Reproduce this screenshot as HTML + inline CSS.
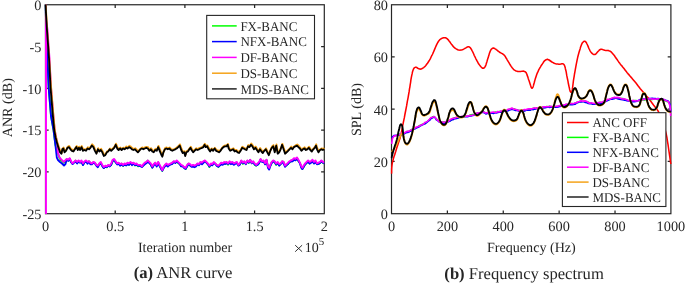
<!DOCTYPE html>
<html><head><meta charset="utf-8"><title>ANR curve and frequency spectrum</title>
<style>html,body{margin:0;padding:0;background:#fff;}body{width:685px;height:283px;overflow:hidden;}svg{display:block;will-change:transform;}text{font-family:"Liberation Serif",serif;fill:#262626;text-rendering:geometricPrecision;}</style>
</head><body>
<svg width="685" height="283" viewBox="0 0 685 283">
<rect x="0" y="0" width="685" height="283" fill="#ffffff"/>
<defs><clipPath id="cl"><rect x="44.3" y="4.2" width="281.2" height="210.1"/></clipPath><clipPath id="cr"><rect x="390.3" y="4.2" width="281.8" height="210.1"/></clipPath></defs>
<path d="M115.20,213.70 v-3.2 M115.20,4.75 v3.2 M184.90,213.70 v-3.2 M184.90,4.75 v3.2 M254.60,213.70 v-3.2 M254.60,4.75 v3.2 M45.50,46.54 h3.2 M324.30,46.54 h-3.2 M45.50,88.33 h3.2 M324.30,88.33 h-3.2 M45.50,130.12 h3.2 M324.30,130.12 h-3.2 M45.50,171.91 h3.2 M324.30,171.91 h-3.2" stroke="#262626" stroke-width="1.25" fill="none"/>
<rect x="45.50" y="4.75" width="278.80" height="208.95" fill="none" stroke="#262626" stroke-width="1.2"/>
<path d="M447.38,213.70 v-3.2 M447.38,4.75 v3.2 M503.26,213.70 v-3.2 M503.26,4.75 v3.2 M559.14,213.70 v-3.2 M559.14,4.75 v3.2 M615.02,213.70 v-3.2 M615.02,4.75 v3.2 M391.50,56.99 h3.2 M670.90,56.99 h-3.2 M391.50,109.22 h3.2 M670.90,109.22 h-3.2 M391.50,161.46 h3.2 M670.90,161.46 h-3.2" stroke="#262626" stroke-width="1.25" fill="none"/>
<rect x="391.50" y="4.75" width="279.40" height="208.95" fill="none" stroke="#262626" stroke-width="1.2"/>
<g clip-path="url(#cl)" fill="none" stroke-width="1.85" stroke-linejoin="round" stroke-linecap="butt">
<path d="M45.5,4.5 L46.3,29.0 L47.5,58.0 L48.6,87.0 L51.0,116.0 L53.5,130.0 L55.4,145.0 L57.8,153.0 L59.3,157.6 L60.8,160.3 L62.3,161.2 L63.7,162.7 L65.2,161.3 L66.7,159.3 L68.2,160.5 L69.7,159.2 L71.2,162.4 L72.6,163.6 L74.1,162.4 L75.6,160.6 L77.1,163.1 L78.6,161.5 L80.1,162.1 L81.5,161.9 L83.0,164.8 L84.5,162.2 L86.0,161.4 L87.5,162.2 L89.0,161.3 L90.4,163.5 L91.9,163.6 L93.4,162.3 L94.9,163.1 L96.4,165.0 L97.9,166.4 L99.3,164.1 L100.8,163.2 L102.3,165.7 L103.8,168.1 L105.3,166.4 L106.8,167.4 L108.2,165.6 L109.7,166.1 L111.2,164.9 L112.7,161.2 L114.2,160.2 L115.7,162.2 L117.2,163.9 L118.6,163.1 L120.1,164.6 L121.6,163.6 L123.1,166.0 L124.6,164.0 L126.1,165.4 L127.5,163.3 L129.0,164.8 L130.5,163.2 L132.0,163.5 L133.5,163.0 L135.0,165.5 L136.4,164.1 L137.9,166.3 L140.4,165.5 L141.9,166.6 L143.4,165.1 L144.8,163.8 L146.3,162.4 L147.8,160.6 L149.3,162.5 L150.8,164.8 L152.3,167.5 L153.7,164.4 L155.2,163.1 L156.7,165.1 L158.2,162.1 L159.7,166.1 L161.2,168.2 L162.3,170.9 L163.4,167.8 L164.9,165.2 L166.4,164.5 L167.8,165.1 L169.3,165.1 L170.8,163.6 L172.3,163.3 L173.8,161.6 L175.3,162.4 L176.7,161.9 L178.2,163.1 L179.7,163.9 L181.2,166.2 L182.7,166.0 L184.2,167.7 L185.6,169.1 L187.1,165.9 L188.6,163.6 L190.1,165.6 L191.6,166.0 L193.1,165.3 L194.5,166.8 L196.0,165.4 L197.5,163.9 L199.0,164.3 L200.5,162.1 L202.0,163.6 L203.4,161.6 L204.9,161.4 L206.4,162.5 L207.9,164.1 L209.4,167.1 L210.9,164.2 L212.3,165.0 L213.8,163.2 L215.3,163.7 L216.8,165.2 L218.3,167.0 L219.8,165.4 L221.2,163.1 L222.7,163.7 L224.2,163.0 L225.0,164.1 L226.5,162.3 L228.0,164.8 L229.5,162.5 L230.9,163.6 L232.4,162.6 L233.9,163.6 L235.4,162.8 L236.9,163.3 L238.4,165.3 L239.8,164.5 L241.3,160.9 L242.8,163.9 L244.3,162.1 L245.8,163.9 L247.3,160.8 L248.7,163.0 L250.2,159.9 L251.7,163.1 L253.2,162.0 L254.7,164.7 L256.2,165.8 L257.6,163.9 L259.1,163.3 L260.6,159.3 L262.1,161.3 L263.6,160.9 L265.1,164.1 L266.5,159.9 L268.0,166.7 L269.2,168.5 L270.3,165.8 L271.7,162.2 L273.2,161.0 L274.7,162.5 L276.2,164.9 L277.7,162.9 L279.2,165.2 L280.6,164.3 L282.1,161.5 L283.6,162.0 L285.1,165.7 L286.6,165.5 L288.1,163.7 L289.5,162.6 L291.0,160.5 L292.5,160.7 L294.0,159.0 L295.5,160.1 L297.0,158.0 L298.4,161.2 L299.9,162.8 L301.4,167.2 L302.4,169.0 L303.6,167.0 L305.1,164.5 L306.6,163.0 L308.1,161.6 L309.6,163.3 L311.1,161.7 L312.5,160.7 L314.0,163.3 L315.5,161.7 L317.0,164.1 L318.5,163.8 L320.0,163.2 L321.4,161.3 L322.9,162.9 L324.1,163.3" stroke="#00ff00"/>
<path d="M45.5,4.5 L46.3,29.0 L47.5,58.0 L48.6,87.0 L51.0,116.0 L53.5,130.0 L55.4,145.0 L56.8,157.5 L58.0,160.0 L60.0,162.0 L62.0,163.5 L64.0,165.5 L65.5,164.0 L66.7,159.6 L68.2,160.9 L69.7,158.8 L71.2,162.3 L72.6,164.1 L74.1,162.6 L75.6,161.5 L77.1,163.5 L78.6,161.2 L80.1,162.8 L81.5,161.8 L83.0,165.1 L84.5,162.4 L86.0,161.5 L87.5,163.7 L89.0,161.8 L90.4,164.3 L91.9,164.3 L93.4,162.7 L94.9,163.4 L96.4,165.8 L97.9,167.2 L99.3,164.2 L100.8,163.2 L102.3,166.2 L103.8,168.1 L105.3,166.9 L106.8,167.0 L108.2,165.5 L109.7,166.5 L111.2,164.8 L112.7,160.8 L114.2,159.9 L115.7,162.5 L117.2,164.5 L118.6,163.6 L120.1,165.7 L121.6,164.8 L123.1,165.8 L124.6,164.7 L126.1,165.4 L127.5,164.3 L129.0,164.9 L130.5,162.8 L132.0,165.2 L133.5,163.4 L135.0,165.2 L136.4,164.9 L137.9,165.6 L140.4,166.1 L141.9,167.0 L143.4,165.5 L144.8,164.2 L146.3,163.2 L147.8,162.1 L149.3,162.9 L150.8,164.8 L152.3,167.7 L153.7,165.4 L155.2,163.8 L156.7,166.5 L158.2,163.6 L159.7,166.0 L161.2,169.2 L162.3,170.7 L163.4,168.5 L164.9,166.2 L166.4,165.2 L167.8,166.5 L169.3,165.1 L170.8,164.4 L172.3,164.0 L173.8,161.8 L175.3,163.1 L176.7,161.2 L178.2,162.6 L179.7,164.1 L181.2,166.4 L182.7,166.4 L184.2,168.0 L185.6,168.9 L187.1,166.5 L188.6,164.1 L190.1,165.3 L191.6,166.9 L193.1,166.5 L194.5,167.2 L196.0,166.5 L197.5,164.3 L199.0,165.2 L200.5,162.9 L202.0,164.3 L203.4,162.9 L204.9,161.2 L206.4,162.7 L207.9,164.3 L209.4,166.5 L210.9,164.6 L212.3,165.4 L213.8,162.8 L215.3,164.0 L216.8,166.0 L218.3,166.7 L219.8,165.4 L221.2,164.4 L222.7,164.8 L224.2,163.1 L225.0,164.0 L226.5,163.3 L228.0,164.0 L229.5,162.8 L230.9,164.2 L232.4,163.5 L233.9,164.9 L235.4,163.7 L236.9,163.0 L238.4,165.6 L239.8,164.7 L241.3,161.1 L242.8,163.3 L244.3,162.0 L245.8,164.2 L247.3,161.4 L248.7,162.6 L250.2,160.3 L251.7,163.4 L253.2,161.9 L254.7,164.4 L256.2,165.5 L257.6,165.0 L259.1,163.2 L260.6,159.7 L262.1,162.1 L263.6,161.4 L265.1,164.4 L266.5,160.4 L268.0,168.0 L269.2,169.6 L270.3,166.0 L271.7,163.1 L273.2,161.1 L274.7,161.9 L276.2,164.4 L277.7,162.8 L279.2,165.7 L280.6,164.2 L282.1,161.8 L283.6,163.6 L285.1,166.8 L286.6,164.9 L288.1,163.9 L289.5,161.8 L291.0,161.6 L292.5,161.4 L294.0,159.8 L295.5,160.4 L297.0,158.4 L298.4,160.7 L299.9,163.4 L301.4,167.9 L302.4,169.1 L303.6,167.1 L305.1,164.4 L306.6,162.8 L308.1,162.0 L309.6,163.7 L311.1,162.8 L312.5,161.2 L314.0,163.5 L315.5,161.9 L317.0,164.3 L318.5,163.9 L320.0,162.9 L321.4,161.1 L322.9,162.5 L324.1,163.6" stroke="#0000ff"/>
<path d="M45.8,4.5 L46.0,213.4 L46.1,20.0 L47.4,29.0 L49.5,58.0 L51.0,87.0 L53.4,116.0 L54.7,130.0 L56.1,137.4 L57.4,143.4 L57.8,152.3 L59.3,156.7 L60.8,158.9 L62.3,160.4 L63.7,161.9 L65.2,160.4 L66.7,158.9 L68.2,159.7 L69.7,158.2 L71.2,161.2 L72.6,163.4 L74.1,161.9 L75.6,160.4 L77.1,161.9 L78.6,160.4 L80.1,161.9 L81.5,160.4 L83.0,163.4 L84.5,161.2 L86.0,160.4 L87.5,161.9 L89.0,161.2 L90.4,162.6 L91.9,163.4 L93.4,161.9 L94.9,162.6 L96.4,164.9 L97.9,165.6 L99.3,163.4 L100.8,161.9 L102.3,164.9 L103.8,167.1 L105.3,165.6 L106.8,166.4 L108.2,164.9 L109.7,165.6 L111.2,163.4 L112.7,159.7 L114.2,158.9 L115.7,161.2 L117.2,163.4 L118.6,162.6 L120.1,164.1 L121.6,163.4 L123.1,164.9 L124.6,163.4 L126.1,164.1 L127.5,162.6 L129.0,163.4 L130.5,161.9 L132.0,163.4 L133.5,162.6 L135.0,164.1 L136.4,163.4 L137.9,164.9 L140.4,164.9 L141.9,166.4 L143.4,164.1 L144.8,162.6 L146.3,161.9 L147.8,160.4 L149.3,161.9 L150.8,163.4 L152.3,166.4 L153.7,164.1 L155.2,162.6 L156.7,164.9 L158.2,161.9 L159.7,164.9 L161.2,167.8 L162.3,170.1 L163.4,167.1 L164.9,164.9 L166.4,163.4 L167.8,164.9 L169.3,164.1 L170.8,163.4 L172.3,162.6 L173.8,161.2 L175.3,161.9 L176.7,160.4 L178.2,161.9 L179.7,163.4 L181.2,164.9 L182.7,165.6 L184.2,167.1 L185.6,167.8 L187.1,164.9 L188.6,163.4 L190.1,164.1 L191.6,165.6 L193.1,164.9 L194.5,165.6 L196.0,164.9 L197.5,163.4 L199.0,164.1 L200.5,161.9 L202.0,162.6 L203.4,161.2 L204.9,160.4 L206.4,161.9 L207.9,163.4 L209.4,165.6 L210.9,163.4 L212.3,164.1 L213.8,161.9 L215.3,163.4 L216.8,164.9 L218.3,165.6 L219.8,164.1 L221.2,162.6 L222.7,163.4 L224.2,161.9 L225.0,162.6 L226.5,161.9 L228.0,163.4 L229.5,161.2 L230.9,162.6 L232.4,161.9 L233.9,163.4 L235.4,162.6 L236.9,161.9 L238.4,164.9 L239.8,163.4 L241.3,160.4 L242.8,162.6 L244.3,161.2 L245.8,163.4 L247.3,160.4 L248.7,161.9 L250.2,159.7 L251.7,162.6 L253.2,161.2 L254.7,163.4 L256.2,164.9 L257.6,163.4 L259.1,161.9 L260.6,158.9 L262.1,161.2 L263.6,160.4 L265.1,163.4 L266.5,159.7 L268.0,166.4 L269.2,167.8 L270.3,164.9 L271.7,161.9 L273.2,160.4 L274.7,161.2 L276.2,163.4 L277.7,161.9 L279.2,164.1 L280.6,163.4 L282.1,161.2 L283.6,161.9 L285.1,165.6 L286.6,164.1 L288.1,162.6 L289.5,161.2 L291.0,160.4 L292.5,159.7 L294.0,158.2 L295.5,158.9 L297.0,157.4 L298.4,159.7 L299.9,162.6 L301.4,166.4 L302.4,167.8 L303.6,165.6 L305.1,163.4 L306.6,161.9 L308.1,160.4 L309.6,161.9 L311.1,161.2 L312.5,159.7 L314.0,161.9 L315.5,160.4 L317.0,163.4 L318.5,162.6 L320.0,161.9 L321.4,160.4 L322.9,161.9 L324.1,162.6" stroke="#ff00ff"/>
<path d="M45.7,4.5 L47.1,29.0 L49.2,58.0 L51.1,87.0 L53.5,116.0 L54.8,130.0 L55.9,136.4 L57.4,142.3 L58.8,146.5 L60.3,151.2 L61.8,152.9 L62.6,148.4 L63.7,147.6 L64.8,151.1 L66.3,149.8 L67.7,146.7 L69.2,145.9 L70.7,148.4 L72.2,149.5 L73.7,150.5 L75.2,148.0 L76.7,146.0 L78.1,148.9 L79.2,146.6 L80.4,149.0 L81.8,146.0 L83.3,149.7 L84.8,149.1 L86.3,149.5 L87.8,147.2 L89.3,148.1 L90.7,146.8 L92.2,144.3 L93.7,145.8 L95.2,149.9 L96.7,152.7 L98.2,148.2 L99.6,150.6 L101.1,148.8 L102.6,151.2 L104.1,154.7 L105.6,154.1 L107.1,151.3 L108.5,150.6 L110.0,148.4 L111.5,149.6 L113.0,148.2 L114.5,146.6 L116.0,143.6 L117.5,147.4 L118.9,149.1 L120.4,147.6 L121.9,149.0 L123.4,147.7 L124.9,148.1 L126.4,146.5 L127.8,147.4 L129.3,145.8 L130.8,146.6 L132.3,148.1 L133.8,149.0 L135.3,148.2 L136.7,149.6 L138.2,151.3 L140.7,148.4 L142.2,147.4 L143.7,148.0 L145.1,147.2 L146.6,146.9 L148.1,147.2 L149.6,149.8 L151.1,148.2 L152.6,150.3 L154.0,151.3 L155.5,148.7 L157.0,149.5 L158.5,145.9 L160.0,149.4 L161.5,153.5 L162.6,155.5 L163.7,151.0 L165.2,148.0 L166.7,147.5 L168.1,148.2 L169.6,147.5 L171.1,149.0 L172.6,149.8 L174.1,149.2 L175.6,148.3 L177.0,147.3 L178.5,145.9 L180.0,144.3 L181.5,148.7 L183.0,151.9 L184.5,151.3 L185.5,154.7 L186.7,151.0 L188.2,150.3 L189.6,148.3 L190.8,146.7 L191.9,149.0 L193.4,151.3 L194.8,149.6 L196.3,148.3 L197.8,149.1 L199.3,148.0 L200.8,147.7 L202.3,146.8 L203.7,145.8 L204.9,143.7 L206.0,146.0 L207.5,145.4 L208.9,148.1 L210.4,150.4 L211.9,148.4 L213.4,149.8 L214.9,147.7 L216.4,149.7 L217.8,150.5 L219.3,151.0 L220.8,149.8 L222.3,147.6 L223.8,146.0 L225.3,145.3 L226.8,145.1 L228.0,143.9 L229.0,147.7 L230.5,149.9 L232.0,148.9 L233.5,148.3 L234.9,150.3 L236.4,149.9 L237.9,151.3 L239.4,151.8 L240.9,149.5 L242.4,146.7 L243.8,147.5 L245.3,148.3 L246.8,148.9 L248.3,145.0 L249.8,146.1 L251.3,143.5 L252.7,145.4 L254.2,148.0 L255.7,146.6 L257.2,149.1 L258.7,151.0 L260.2,148.0 L261.7,150.4 L263.1,152.0 L264.6,149.8 L266.1,148.3 L267.6,151.4 L269.1,154.1 L270.6,149.9 L272.0,146.5 L273.5,145.1 L275.0,151.2 L276.5,144.4 L278.0,152.8 L279.5,151.2 L280.9,148.2 L282.4,143.9 L283.9,148.2 L285.4,152.5 L286.9,151.1 L288.4,149.8 L289.8,148.4 L291.3,146.6 L292.8,148.4 L294.3,146.2 L295.8,145.2 L297.3,144.5 L298.7,145.8 L300.2,147.5 L301.7,149.7 L303.2,148.2 L304.7,147.2 L306.2,149.2 L307.6,148.2 L309.1,146.7 L310.6,149.1 L312.1,150.4 L313.6,148.2 L315.1,146.8 L316.2,144.3 L317.3,148.2 L318.8,151.1 L320.3,149.2 L321.7,148.4 L323.2,148.8 L324.4,148.2" stroke="#f5a31a"/>
<path d="M45.5,4.5 L46.9,29.0 L49.0,58.0 L50.5,87.0 L52.9,116.0 L54.2,130.0 L55.6,137.4 L57.1,143.4 L58.5,147.8 L60.0,152.3 L61.5,153.7 L62.3,149.3 L63.4,148.5 L64.5,152.3 L66.0,150.8 L67.4,147.8 L68.9,147.1 L70.4,149.3 L71.9,150.8 L73.4,151.5 L74.9,149.3 L76.4,147.1 L77.8,150.0 L78.9,147.8 L80.1,150.0 L81.5,147.1 L83.0,150.8 L84.5,150.0 L86.0,150.8 L87.5,148.5 L89.0,149.3 L90.4,147.8 L91.9,145.6 L93.4,147.1 L94.9,150.8 L96.4,153.7 L97.9,149.3 L99.3,151.5 L100.8,150.0 L102.3,152.3 L103.8,156.0 L105.3,155.2 L106.8,152.3 L108.2,151.5 L109.7,149.3 L111.2,150.8 L112.7,149.3 L114.2,147.8 L115.7,144.8 L117.2,148.5 L118.6,150.0 L120.1,148.5 L121.6,150.0 L123.1,148.5 L124.6,149.3 L126.1,147.8 L127.5,148.5 L129.0,147.1 L130.5,147.8 L132.0,149.3 L133.5,150.0 L135.0,149.3 L136.4,150.8 L137.9,152.3 L140.4,149.3 L141.9,148.5 L143.4,149.3 L144.8,148.5 L146.3,147.8 L147.8,148.5 L149.3,150.8 L150.8,149.3 L152.3,151.5 L153.7,152.3 L155.2,150.0 L156.7,150.8 L158.2,147.1 L159.7,150.8 L161.2,154.5 L162.3,156.7 L163.4,152.3 L164.9,149.3 L166.4,148.5 L167.8,149.3 L169.3,148.5 L170.8,150.0 L172.3,150.8 L173.8,150.0 L175.3,149.3 L176.7,148.5 L178.2,147.1 L179.7,145.6 L181.2,150.0 L182.7,153.0 L184.2,152.3 L185.2,156.0 L186.4,152.3 L187.9,151.5 L189.3,149.3 L190.5,147.8 L191.6,150.0 L193.1,152.3 L194.5,150.8 L196.0,149.3 L197.5,150.0 L199.0,149.3 L200.5,148.5 L202.0,147.8 L203.4,147.1 L204.6,144.8 L205.7,147.1 L207.2,146.3 L208.6,149.3 L210.1,151.5 L211.6,149.3 L213.1,150.8 L214.6,148.5 L216.1,150.8 L217.5,151.5 L219.0,152.3 L220.5,150.8 L222.0,148.5 L223.5,147.1 L225.0,146.3 L226.5,146.3 L227.7,144.8 L228.7,148.5 L230.2,150.8 L231.7,150.0 L233.2,149.3 L234.6,151.5 L236.1,150.8 L237.6,152.3 L239.1,153.0 L240.6,150.8 L242.1,147.8 L243.5,148.5 L245.0,149.3 L246.5,150.0 L248.0,146.3 L249.5,147.1 L251.0,144.8 L252.4,146.3 L253.9,149.3 L255.4,147.8 L256.9,150.0 L258.4,152.3 L259.9,149.3 L261.4,151.5 L262.8,153.0 L264.3,150.8 L265.8,149.3 L267.3,152.3 L268.8,155.2 L270.3,150.8 L271.7,147.8 L273.2,146.3 L274.7,152.3 L276.2,145.6 L277.7,153.7 L279.2,152.3 L280.6,149.3 L282.1,144.8 L283.6,149.3 L285.1,153.7 L286.6,152.3 L288.1,150.8 L289.5,149.3 L291.0,147.8 L292.5,149.3 L294.0,147.1 L295.5,146.3 L297.0,145.6 L298.4,147.1 L299.9,148.5 L301.4,150.8 L302.9,149.3 L304.4,148.5 L305.9,150.0 L307.3,149.3 L308.8,147.8 L310.3,150.0 L311.8,151.5 L313.3,149.3 L314.8,147.8 L315.9,145.6 L317.0,149.3 L318.5,152.3 L320.0,150.0 L321.4,149.3 L322.9,150.0 L324.1,149.3" stroke="#000000"/>
</g>
<g clip-path="url(#cr)" fill="none" stroke-width="1.85" stroke-linejoin="round" stroke-linecap="butt">
<path d="M391.5,173.8 L391.6,172.4 L391.6,170.3 L391.7,168.0 L391.9,166.0 L392.1,164.3 L392.4,162.7 L392.8,161.1 L393.2,159.5 L393.6,157.9 L394.1,156.3 L394.7,154.7 L395.2,153.0 L395.8,151.2 L396.3,149.4 L396.9,147.5 L397.6,145.5 L398.3,143.3 L399.1,141.0 L399.9,138.5 L400.6,136.0 L401.2,133.5 L401.7,131.0 L402.2,128.2 L402.8,125.2 L403.5,121.7 L404.3,117.9 L405.0,114.0 L405.8,110.0 L406.6,105.9 L407.3,101.6 L408.1,97.6 L408.7,94.0 L409.2,91.2 L409.5,88.9 L409.9,86.8 L410.2,84.6 L410.6,82.3 L410.9,79.9 L411.3,77.7 L411.7,75.7 L412.1,73.9 L412.4,72.3 L412.8,70.9 L413.2,69.8 L413.6,68.9 L413.9,68.3 L414.3,67.9 L414.7,67.6 L415.1,67.4 L415.4,67.2 L415.8,67.2 L416.2,67.3 L416.7,67.5 L417.3,67.9 L417.8,68.3 L418.4,68.6 L418.9,68.8 L419.4,69.0 L420.0,69.1 L420.6,69.1 L421.3,68.9 L422.1,68.6 L422.8,68.1 L423.6,67.6 L424.3,67.0 L425.1,66.3 L425.8,65.5 L426.5,64.6 L427.3,63.6 L428.0,62.5 L428.8,61.3 L429.5,60.2 L430.1,59.1 L430.7,57.9 L431.2,56.8 L431.7,55.7 L432.2,54.8 L432.6,54.0 L433.0,53.1 L433.5,52.0 L434.1,50.6 L434.8,48.9 L435.5,47.2 L436.2,45.6 L436.9,44.1 L437.7,42.7 L438.4,41.5 L439.2,40.4 L439.9,39.6 L440.7,39.0 L441.4,38.6 L442.1,38.2 L442.8,37.9 L443.5,37.7 L444.1,37.7 L444.8,37.7 L445.4,37.8 L446.0,38.0 L446.6,38.4 L447.3,38.9 L448.0,39.6 L448.8,40.6 L449.5,41.6 L450.3,42.6 L451.0,43.6 L451.7,44.6 L452.5,45.5 L453.2,46.4 L453.9,47.1 L454.7,47.8 L455.4,48.4 L456.2,48.9 L456.9,49.3 L457.7,49.7 L458.4,49.9 L459.2,50.1 L460.0,50.2 L460.7,50.1 L461.5,50.0 L462.2,49.8 L462.9,49.5 L463.7,49.1 L464.4,48.7 L465.1,48.3 L465.9,47.9 L466.6,47.4 L467.4,47.0 L468.1,46.8 L468.7,46.8 L469.3,47.0 L469.8,47.3 L470.3,47.8 L470.8,48.5 L471.4,49.4 L471.9,50.4 L472.5,51.5 L473.1,52.7 L473.7,54.0 L474.2,55.3 L474.8,56.5 L475.4,57.7 L475.9,58.8 L476.5,59.9 L477.0,60.9 L477.6,61.9 L478.1,62.9 L478.6,63.8 L479.2,64.6 L479.8,65.4 L480.3,66.1 L480.9,66.8 L481.4,67.3 L481.8,67.7 L482.2,68.0 L482.6,68.2 L483.0,68.3 L483.4,68.3 L483.7,68.2 L484.0,68.0 L484.4,67.6 L484.7,67.2 L485.1,66.7 L485.5,66.0 L485.9,64.9 L486.4,63.3 L487.0,61.4 L487.6,59.3 L488.2,57.4 L488.8,55.6 L489.3,53.8 L489.9,52.1 L490.4,50.8 L490.9,49.9 L491.3,49.3 L491.8,48.8 L492.2,48.5 L492.7,48.2 L493.1,48.1 L493.6,48.1 L494.1,48.2 L494.6,48.4 L495.1,48.8 L495.7,49.2 L496.3,49.7 L497.0,50.2 L497.8,50.8 L498.5,51.4 L499.3,52.0 L500.1,52.5 L500.8,52.9 L501.6,53.3 L502.3,53.7 L502.9,54.1 L503.5,54.5 L504.0,54.9 L504.5,55.5 L505.1,56.2 L505.6,57.1 L506.1,58.0 L506.7,58.9 L507.2,59.8 L507.8,60.8 L508.3,61.7 L508.9,62.7 L509.5,63.7 L510.1,64.6 L510.6,65.5 L511.2,66.4 L511.8,67.2 L512.3,67.9 L512.9,68.6 L513.4,69.2 L513.9,69.7 L514.4,70.1 L515.0,70.4 L515.6,70.7 L516.3,71.0 L517.1,71.2 L517.8,71.4 L518.6,71.5 L519.3,71.5 L520.1,71.5 L520.8,71.4 L521.5,71.3 L522.1,71.2 L522.7,71.2 L523.2,71.1 L523.8,71.2 L524.4,71.4 L524.9,71.6 L525.5,72.0 L526.0,72.5 L526.4,73.2 L526.8,74.1 L527.1,75.1 L527.5,76.1 L527.9,77.1 L528.2,78.2 L528.6,79.4 L529.0,80.5 L529.4,81.7 L529.8,83.0 L530.2,84.3 L530.5,85.3 L530.8,86.1 L531.0,86.7 L531.1,87.1 L531.3,87.5 L531.5,87.8 L531.7,88.0 L531.8,88.1 L532.0,88.1 L532.2,88.1 L532.3,88.0 L532.5,87.8 L532.7,87.5 L532.9,87.1 L533.1,86.6 L533.3,86.0 L533.5,85.3 L533.7,84.5 L534.0,83.5 L534.3,82.5 L534.6,81.3 L535.0,79.9 L535.4,78.4 L535.9,76.9 L536.4,75.4 L536.9,74.0 L537.5,72.6 L538.1,71.4 L538.6,70.2 L539.1,69.2 L539.6,68.4 L540.0,67.6 L540.5,66.8 L541.0,65.9 L541.6,65.0 L542.2,64.2 L542.7,63.4 L543.2,62.7 L543.6,62.0 L544.0,61.4 L544.5,60.9 L545.1,60.4 L545.7,60.0 L546.3,59.6 L546.8,59.4 L547.2,59.3 L547.6,59.3 L548.0,59.5 L548.5,59.7 L549.1,60.0 L549.8,60.5 L550.5,61.0 L551.2,61.5 L551.9,62.0 L552.7,62.4 L553.4,62.8 L554.2,63.2 L555.0,63.5 L555.7,63.7 L556.5,63.9 L557.2,64.0 L557.9,64.1 L558.7,64.2 L559.4,64.2 L560.1,64.2 L560.7,64.1 L561.3,63.9 L561.8,63.7 L562.3,63.7 L562.8,63.8 L563.3,64.0 L563.8,64.4 L564.3,65.0 L564.7,66.0 L565.1,67.2 L565.4,68.7 L565.8,70.2 L566.2,71.9 L566.5,73.8 L566.8,75.7 L567.2,77.6 L567.6,79.5 L568.0,81.4 L568.3,83.3 L568.7,85.0 L569.0,86.6 L569.4,88.1 L569.6,89.4 L569.9,90.4 L570.1,91.1 L570.3,91.5 L570.4,91.7 L570.6,91.9 L570.8,92.1 L570.9,92.2 L571.1,92.3 L571.2,92.3 L571.3,92.3 L571.5,92.3 L571.6,92.1 L571.8,91.7 L572.0,91.1 L572.1,90.4 L572.3,89.4 L572.5,88.0 L572.8,86.0 L573.1,83.5 L573.4,80.8 L573.8,78.3 L574.2,76.1 L574.5,74.0 L574.9,71.9 L575.3,69.7 L575.7,67.3 L576.2,64.7 L576.7,62.2 L577.2,59.7 L577.7,57.3 L578.3,55.0 L578.9,52.8 L579.5,50.8 L580.1,48.9 L580.6,47.0 L581.2,45.4 L581.7,44.1 L582.2,43.1 L582.7,42.5 L583.2,42.0 L583.6,41.6 L584.0,41.3 L584.4,41.2 L584.7,41.2 L585.1,41.3 L585.5,41.6 L585.8,41.9 L586.2,42.4 L586.6,43.1 L587.0,44.0 L587.5,45.0 L588.0,46.1 L588.4,47.1 L588.8,48.1 L589.2,49.0 L589.7,50.0 L590.1,50.8 L590.6,51.6 L591.1,52.3 L591.6,52.9 L592.1,53.4 L592.6,53.8 L593.1,54.1 L593.5,54.4 L594.0,54.5 L594.4,54.5 L594.9,54.5 L595.3,54.3 L595.8,54.0 L596.3,53.5 L596.9,52.8 L597.5,52.1 L598.0,51.5 L598.5,51.0 L599.0,50.5 L599.4,50.0 L599.9,49.7 L600.3,49.5 L600.8,49.3 L601.2,49.3 L601.7,49.3 L602.2,49.4 L602.8,49.6 L603.3,49.8 L603.9,50.0 L604.5,50.2 L605.0,50.3 L605.6,50.4 L606.2,50.5 L606.8,50.5 L607.3,50.5 L607.9,50.4 L608.4,50.5 L608.9,50.7 L609.5,50.9 L610.0,51.1 L610.6,51.5 L611.1,51.9 L611.7,52.5 L612.2,53.1 L612.8,53.7 L613.4,54.4 L613.9,55.1 L614.5,55.8 L615.1,56.7 L615.8,57.7 L616.5,58.7 L617.3,59.8 L618.0,60.9 L618.7,61.9 L619.5,62.9 L620.2,63.9 L621.0,64.9 L621.8,65.8 L622.5,66.8 L623.3,67.7 L624.0,68.6 L624.7,69.5 L625.4,70.4 L626.1,71.3 L626.9,72.4 L627.9,73.6 L629.1,74.9 L630.2,76.3 L631.4,77.6 L632.5,78.9 L633.6,80.2 L634.7,81.5 L635.8,82.8 L636.9,84.2 L638.0,85.8 L639.2,87.3 L640.3,88.7 L641.4,90.0 L642.5,91.3 L643.6,92.6 L644.7,93.9 L645.8,95.2 L646.9,96.4 L648.0,97.8 L649.2,99.3 L650.6,101.1 L652.2,103.2 L653.7,105.3 L655.1,107.1 L656.2,108.5 L657.1,109.6 L657.9,110.7 L658.8,112.3 L659.7,114.4 L660.6,116.7 L661.6,119.3 L662.5,122.0 L663.5,124.8 L664.4,127.7 L665.4,130.8 L666.2,134.0 L666.9,137.3 L667.4,140.8 L668.0,144.3 L668.5,148.0 L669.1,152.2 L669.8,156.9 L670.4,161.1 L670.8,164.0" stroke="#ff0000" stroke-width="1.55"/>
<path d="M396.9,135.5 L398.4,134.8 L399.8,134.0 L401.3,134.3 L402.8,132.9 L404.3,132.9 L405.8,132.8 L407.3,131.4 L408.8,131.2 L410.2,130.6 L411.7,129.4 L413.2,129.0 L414.6,128.6 L416.1,127.6 L417.6,127.1 L419.1,125.8 L420.6,125.1 L422.1,124.3 L423.6,123.9 L425.1,123.3 L426.5,122.0 L428.0,121.2 L429.5,119.4 L431.0,118.4 L432.6,116.7 L434.0,116.6 L435.2,117.6 L436.4,119.1 L437.8,120.2 L439.2,121.2 L441.8,122.0 L444.3,122.1 L445.8,121.7 L447.3,121.7 L448.8,120.6 L450.3,120.5 L451.8,119.8 L453.2,118.2 L454.7,117.8 L456.2,117.6 L457.7,116.9 L459.2,117.0 L460.7,117.2 L462.2,116.3 L463.6,116.6 L465.1,116.0 L466.6,116.3 L468.1,116.3 L469.6,115.3 L471.0,114.8 L472.5,114.6 L474.0,114.7 L475.5,113.6 L477.0,113.1 L478.5,112.9 L480.0,112.7 L482.5,111.4 L484.2,112.2 L485.9,113.2 L487.4,112.6 L488.9,113.0 L490.4,112.5 L491.9,112.8 L493.4,113.0 L494.9,112.0 L496.3,112.3 L497.8,112.2 L499.3,111.4 L500.8,111.3 L502.2,111.7 L503.7,111.4 L505.2,110.1 L506.7,110.4 L508.2,110.2 L509.7,109.1 L511.9,108.8 L513.8,108.7 L515.6,109.6 L517.1,110.1 L518.5,110.2 L520.0,110.6 L521.5,110.2 L523.0,110.2 L524.5,110.5 L526.0,110.0 L527.5,109.7 L529.0,109.4 L530.5,109.7 L531.9,109.0 L533.4,108.2 L534.9,108.8 L536.3,108.1 L537.8,108.0 L539.3,107.6 L540.8,107.6 L542.3,107.2 L543.8,106.7 L545.3,107.0 L546.8,106.4 L548.2,107.0 L549.7,106.1 L551.2,106.8 L552.7,106.8 L554.2,106.5 L555.7,106.7 L557.2,106.2 L558.7,106.4 L560.2,105.8 L561.6,105.3 L563.1,105.8 L564.6,104.9 L566.0,104.6 L567.5,104.8 L569.0,104.1 L570.5,104.2 L572.0,103.5 L573.5,104.0 L575.0,103.3 L576.5,102.3 L578.0,102.5 L579.5,101.2 L580.9,101.5 L582.4,101.6 L583.9,101.2 L585.4,101.1 L586.9,101.6 L588.3,102.2 L589.8,102.9 L591.3,103.3 L592.8,103.9 L594.3,103.6 L595.8,103.1 L597.2,103.3 L598.7,102.6 L600.2,102.3 L601.7,102.4 L603.2,102.2 L604.7,100.9 L606.1,100.6 L607.6,100.2 L609.1,99.7 L610.6,98.7 L612.1,98.7 L614.0,97.6 L615.8,97.7 L617.6,98.2 L619.5,98.7 L621.0,98.6 L622.5,98.6 L624.0,98.8 L625.5,99.7 L626.9,99.8 L628.4,100.6 L629.9,100.2 L631.3,101.1 L632.8,100.7 L634.3,100.6 L635.8,100.6 L637.3,100.8 L638.8,100.7 L640.3,100.4 L641.8,99.9 L643.2,99.9 L644.7,100.0 L646.2,99.3 L647.7,99.7 L649.2,98.7 L650.7,99.6 L652.2,99.4 L653.7,99.1 L655.2,99.2 L656.6,99.3 L658.1,99.7 L659.6,99.0 L661.0,99.8 L662.5,99.9 L664.0,99.8 L665.5,100.9 L667.0,101.6 L668.5,102.0" stroke="#00ff00" stroke-width="1.5"/>
<path d="M391.7,137.9 L393.9,135.6 L396.9,135.2 L396.9,135.3 L398.4,135.3 L399.8,135.2 L401.3,134.8 L402.8,134.2 L404.3,133.8 L405.8,132.7 L407.3,132.4 L408.8,132.1 L410.2,131.2 L411.7,130.8 L413.2,129.5 L414.6,129.0 L416.1,128.1 L417.6,127.5 L419.1,126.8 L420.6,125.7 L422.1,125.1 L423.6,124.3 L425.1,123.8 L426.5,122.7 L428.0,121.3 L429.5,120.4 L431.0,118.5 L432.6,117.8 L434.0,117.1 L435.2,117.7 L436.4,119.8 L437.8,120.6 L439.2,122.0 L441.8,123.1 L444.3,123.3 L445.8,122.4 L447.3,122.3 L448.8,121.5 L450.3,120.9 L451.8,119.8 L453.2,119.6 L454.7,118.6 L456.2,118.6 L457.7,118.2 L459.2,117.5 L460.7,117.3 L462.2,117.0 L463.6,116.9 L465.1,116.6 L466.6,116.7 L468.1,116.6 L469.6,115.9 L471.0,116.0 L472.5,115.5 L474.0,115.2 L475.5,114.9 L477.0,114.1 L478.5,113.4 L480.0,112.9 L482.5,112.2 L484.2,112.6 L485.9,114.0 L487.4,113.3 L488.9,113.7 L490.4,113.6 L491.9,113.0 L493.4,113.4 L494.9,112.9 L496.3,112.9 L497.8,112.4 L499.3,112.1 L500.8,111.9 L502.2,112.1 L503.7,111.3 L505.2,111.3 L506.7,111.1 L508.2,110.7 L509.7,109.9 L511.9,109.2 L513.8,109.8 L515.6,110.5 L517.1,110.3 L518.5,110.9 L520.0,111.2 L521.5,111.5 L523.0,110.7 L524.5,111.1 L526.0,110.2 L527.5,110.2 L529.0,110.1 L530.5,110.1 L531.9,109.4 L533.4,109.6 L534.9,109.1 L536.3,108.8 L537.8,108.6 L539.3,108.3 L540.8,108.0 L542.3,107.8 L543.8,107.9 L545.3,107.8 L546.8,107.2 L548.2,107.0 L549.7,107.5 L551.2,107.1 L552.7,107.0 L554.2,106.9 L555.7,107.2 L557.2,107.3 L558.7,106.8 L560.2,106.4 L561.6,105.9 L563.1,106.2 L564.6,105.3 L566.0,105.3 L567.5,105.3 L569.0,104.5 L570.5,104.8 L572.0,104.8 L573.5,104.4 L575.0,104.3 L576.5,103.1 L578.0,102.6 L579.5,101.9 L580.9,101.9 L582.4,101.6 L583.9,101.7 L585.4,102.5 L586.9,102.8 L588.3,103.4 L589.8,103.6 L591.3,103.8 L592.8,104.2 L594.3,104.3 L595.8,103.9 L597.2,103.8 L598.7,103.4 L600.2,103.2 L601.7,103.3 L603.2,102.9 L604.7,102.0 L606.1,101.3 L607.6,100.5 L609.1,99.7 L610.6,99.3 L612.1,99.1 L614.0,98.8 L615.8,98.0 L617.6,98.7 L619.5,99.1 L621.0,99.4 L622.5,99.7 L624.0,100.1 L625.5,100.2 L626.9,100.8 L628.4,100.9 L629.9,101.2 L631.3,101.6 L632.8,101.7 L634.3,101.6 L635.8,101.5 L637.3,100.9 L638.8,100.3 L640.3,99.5 L641.8,99.5 L643.2,99.0 L644.7,99.0 L646.2,98.6 L647.7,98.7 L649.2,98.6 L650.7,98.6 L652.2,98.2 L653.7,98.5 L655.2,98.6 L656.6,98.8 L658.1,98.5 L659.6,99.0 L661.0,99.2 L662.5,99.3 L664.0,99.6 L665.5,100.3 L667.0,100.6 L668.5,101.3 L670.0,104.5 L670.7,112.0" stroke="#0000ff" stroke-width="1.6"/>
<path d="M391.7,143.8 L392.4,138.6 L393.9,136.4 L393.9,136.1 L395.4,135.9 L396.9,135.2 L398.4,134.9 L399.8,134.3 L401.3,133.3 L402.8,132.7 L404.3,133.0 L405.8,132.0 L407.3,131.3 L408.8,131.4 L410.2,130.3 L411.7,130.0 L413.2,128.9 L414.6,128.3 L416.1,127.1 L417.6,126.8 L419.1,126.3 L420.6,125.2 L422.1,124.7 L423.6,123.9 L425.1,122.3 L426.5,122.0 L428.0,120.8 L429.5,119.2 L431.0,117.5 L432.6,117.3 L434.0,116.6 L435.2,117.4 L436.4,119.1 L437.8,120.3 L439.2,121.8 L441.8,121.9 L444.3,122.5 L445.8,121.6 L447.3,121.6 L448.8,121.1 L450.3,119.5 L451.8,118.8 L453.2,118.2 L454.7,118.2 L456.2,117.4 L457.7,117.3 L459.2,116.7 L460.7,116.6 L462.2,116.3 L463.6,116.2 L465.1,116.2 L466.6,116.1 L468.1,116.1 L469.6,115.6 L471.0,115.5 L472.5,115.2 L474.0,115.0 L475.5,114.1 L477.0,113.0 L478.5,113.1 L480.0,112.6 L482.5,111.7 L484.2,112.2 L485.9,113.1 L487.4,112.5 L488.9,113.0 L490.4,112.7 L491.9,112.3 L493.4,111.9 L494.9,112.6 L496.3,112.5 L497.8,111.5 L499.3,111.9 L500.8,111.2 L502.2,110.7 L503.7,110.5 L505.2,110.6 L506.7,110.3 L508.2,109.1 L509.7,109.3 L511.9,108.0 L513.8,109.2 L515.6,109.3 L517.1,110.1 L518.5,110.4 L520.0,110.2 L521.5,110.9 L523.0,110.0 L524.5,109.5 L526.0,109.8 L527.5,109.0 L529.0,108.9 L530.5,108.9 L531.9,108.9 L533.4,108.2 L534.9,107.8 L536.3,108.5 L537.8,107.7 L539.3,108.2 L540.8,107.8 L542.3,107.1 L543.8,106.9 L545.3,106.7 L546.8,106.7 L548.2,106.6 L549.7,106.5 L551.2,106.4 L552.7,106.7 L554.2,106.3 L555.7,106.2 L557.2,106.5 L558.7,105.7 L560.2,105.5 L561.6,105.9 L563.1,105.1 L564.6,104.9 L566.0,104.1 L567.5,104.2 L569.0,104.1 L570.5,103.3 L572.0,103.8 L573.5,103.6 L575.0,102.9 L576.5,102.7 L578.0,101.8 L579.5,101.5 L580.9,100.8 L582.4,101.1 L583.9,101.1 L585.4,100.9 L586.9,101.4 L588.3,102.5 L589.8,103.3 L591.3,102.8 L592.8,103.2 L594.3,103.6 L595.8,103.1 L597.2,102.9 L598.7,102.6 L600.2,102.3 L601.7,102.2 L603.2,101.6 L604.7,101.0 L606.1,100.7 L607.6,99.3 L609.1,99.3 L610.6,98.9 L612.1,97.9 L614.0,97.4 L615.8,97.6 L617.6,97.4 L619.5,97.8 L621.0,98.4 L622.5,99.0 L624.0,98.7 L625.5,99.3 L626.9,99.7 L628.4,100.6 L629.9,100.4 L631.3,101.0 L632.8,100.4 L634.3,100.7 L635.8,100.9 L637.3,101.0 L638.8,100.4 L640.3,100.0 L641.8,99.6 L643.2,99.7 L644.7,99.1 L646.2,99.4 L647.7,99.4 L649.2,98.6 L650.7,98.7 L652.2,99.1 L653.7,99.0 L655.2,99.3 L656.6,98.9 L658.1,98.7 L659.6,99.1 L661.0,99.7 L662.5,99.4 L664.0,99.6 L665.5,100.4 L667.0,101.1 L668.5,101.8 L670.0,106.0 L670.7,116.0" stroke="#ff00ff" stroke-width="1.6"/>
<path d="M391.7,152.0 L392.1,151.5 L392.6,150.8 L393.2,150.0 L393.9,149.0 L394.6,147.9 L395.4,146.6 L396.1,145.3 L396.9,143.8 L397.6,142.2 L398.4,140.4 L399.1,138.6 L399.8,137.1 L400.4,135.8 L401.0,134.6 L401.6,133.8 L402.1,133.4 L402.5,133.6 L402.9,134.3 L403.3,135.3 L403.6,136.5 L403.9,138.0 L404.3,139.7 L404.6,141.5 L405.0,142.8 L405.5,143.6 L406.0,144.2 L406.5,144.5 L407.0,144.6 L407.5,144.5 L407.9,144.1 L408.3,143.7 L408.7,143.1 L409.1,142.5 L409.5,141.8 L409.8,141.1 L410.2,140.2 L410.6,139.2 L410.9,138.1 L411.3,136.9 L411.7,135.6 L412.1,134.3 L412.4,132.8 L412.8,131.3 L413.2,129.6 L413.6,127.7 L413.9,125.6 L414.3,123.4 L414.7,121.3 L415.1,119.2 L415.5,117.1 L415.8,115.1 L416.2,113.4 L416.6,112.1 L416.9,111.1 L417.2,110.3 L417.6,109.7 L418.0,109.3 L418.3,109.0 L418.7,109.0 L419.1,109.2 L419.5,109.6 L419.9,110.3 L420.2,111.1 L420.6,111.9 L421.0,112.6 L421.3,113.3 L421.7,114.0 L422.1,114.6 L422.5,115.0 L423.0,115.4 L423.4,115.6 L423.9,115.7 L424.4,115.7 L424.8,115.5 L425.3,115.3 L425.8,115.1 L426.3,114.8 L426.9,114.5 L427.5,114.2 L428.0,113.9 L428.4,113.7 L428.8,113.5 L429.1,113.2 L429.5,112.7 L429.9,111.8 L430.2,110.6 L430.6,109.4 L431.0,108.2 L431.4,107.0 L431.8,105.8 L432.1,104.7 L432.5,103.8 L432.9,103.1 L433.3,102.5 L433.6,102.0 L434.0,101.8 L434.4,101.7 L434.7,101.8 L435.0,102.1 L435.4,102.7 L435.8,103.7 L436.1,105.1 L436.5,106.7 L436.9,108.2 L437.3,109.7 L437.6,111.4 L438.0,113.0 L438.4,114.6 L438.8,116.2 L439.1,117.8 L439.5,119.3 L439.9,120.6 L440.3,121.6 L440.6,122.3 L441.0,122.9 L441.4,123.5 L441.8,124.1 L442.3,124.6 L442.7,125.0 L443.2,125.3 L443.7,125.4 L444.2,125.4 L444.7,125.3 L445.1,125.0 L445.5,124.6 L445.9,124.2 L446.2,123.6 L446.6,122.8 L447.0,121.9 L447.4,120.7 L447.7,119.5 L448.1,118.3 L448.5,117.0 L448.8,115.6 L449.1,114.2 L449.5,113.1 L449.9,112.3 L450.2,111.7 L450.6,111.3 L451.0,110.9 L451.4,110.6 L451.8,110.3 L452.1,110.2 L452.5,110.1 L452.9,110.2 L453.2,110.3 L453.6,110.6 L454.0,110.9 L454.4,111.3 L454.8,111.9 L455.1,112.5 L455.5,113.1 L455.9,113.7 L456.2,114.4 L456.6,115.1 L457.0,115.7 L457.5,116.2 L458.1,116.6 L458.6,116.9 L459.2,117.2 L459.8,117.4 L460.3,117.5 L460.8,117.6 L461.4,117.6 L462.0,117.5 L462.5,117.4 L463.1,117.2 L463.6,116.9 L464.0,116.5 L464.4,115.9 L464.7,115.3 L465.1,114.6 L465.5,113.9 L465.9,113.1 L466.2,112.2 L466.6,111.2 L467.0,110.0 L467.4,108.7 L467.7,107.4 L468.1,106.3 L468.5,105.5 L468.9,104.9 L469.2,104.3 L469.6,103.8 L470.0,103.2 L470.4,102.5 L470.7,102.1 L471.1,102.1 L471.5,102.7 L471.8,103.7 L472.1,104.9 L472.5,106.1 L472.9,107.3 L473.2,108.7 L473.6,110.1 L474.0,111.3 L474.4,112.4 L474.9,113.5 L475.3,114.5 L475.8,115.2 L476.3,115.6 L476.7,115.9 L477.2,115.9 L477.7,115.8 L478.2,115.5 L478.8,115.1 L479.4,114.6 L480.0,114.0 L480.6,113.3 L481.1,112.6 L481.7,111.7 L482.2,110.9 L482.7,110.0 L483.2,109.1 L483.7,108.2 L484.2,107.5 L484.6,107.0 L485.1,106.5 L485.5,106.3 L485.9,106.2 L486.3,106.3 L486.8,106.7 L487.3,107.2 L487.7,108.0 L488.1,109.1 L488.4,110.5 L488.8,112.1 L489.2,113.6 L489.6,115.1 L490.1,116.7 L490.6,118.3 L491.1,119.6 L491.6,120.7 L492.2,121.8 L492.8,122.6 L493.4,123.3 L494.0,123.8 L494.5,124.2 L495.1,124.4 L495.6,124.5 L496.2,124.5 L496.7,124.3 L497.3,124.0 L497.8,123.6 L498.4,123.0 L498.9,122.3 L499.5,121.4 L500.0,120.3 L500.5,119.0 L501.1,117.4 L501.5,115.8 L502.0,114.4 L502.4,113.1 L502.7,112.0 L503.1,110.9 L503.4,110.2 L503.8,109.8 L504.1,109.6 L504.5,109.7 L504.9,109.9 L505.3,110.4 L505.6,111.2 L506.0,112.0 L506.4,112.9 L506.8,113.8 L507.3,114.8 L507.7,115.7 L508.2,116.6 L508.7,117.4 L509.3,118.2 L509.8,119.0 L510.4,119.6 L510.9,120.1 L511.5,120.5 L512.0,120.9 L512.6,121.1 L513.2,121.2 L513.8,121.3 L514.3,121.2 L514.9,121.1 L515.5,120.9 L516.0,120.6 L516.6,120.2 L517.1,119.6 L517.6,118.7 L518.0,117.5 L518.5,116.3 L518.9,115.1 L519.3,113.9 L519.7,112.8 L520.0,111.7 L520.4,110.9 L520.8,110.4 L521.1,110.1 L521.4,110.0 L521.8,110.2 L522.2,110.7 L522.5,111.5 L522.9,112.5 L523.3,113.6 L523.7,114.8 L524.0,116.1 L524.4,117.5 L524.8,118.8 L525.2,120.0 L525.7,121.1 L526.2,122.1 L526.7,123.0 L527.2,123.7 L527.7,124.3 L528.2,124.7 L528.7,125.1 L529.1,125.4 L529.6,125.6 L530.0,125.8 L530.4,125.8 L530.8,125.8 L531.3,125.7 L531.7,125.4 L532.2,125.1 L532.7,124.6 L533.2,124.1 L533.7,123.4 L534.2,122.5 L534.7,121.4 L535.2,120.2 L535.6,118.8 L536.1,117.3 L536.6,115.6 L537.0,113.6 L537.5,111.7 L537.9,110.2 L538.3,109.1 L538.6,108.3 L539.0,107.7 L539.3,107.2 L539.6,106.9 L539.9,106.8 L540.2,106.8 L540.5,106.9 L540.9,107.2 L541.2,107.6 L541.6,108.1 L542.0,108.7 L542.4,109.3 L542.7,110.0 L543.1,110.7 L543.5,111.4 L543.9,112.1 L544.4,112.9 L544.8,113.6 L545.3,114.2 L545.8,114.6 L546.4,114.8 L546.9,114.9 L547.5,114.9 L548.0,114.9 L548.6,114.8 L549.1,114.6 L549.7,114.2 L550.3,113.7 L550.9,113.0 L551.5,112.2 L552.0,111.2 L552.5,110.0 L553.0,108.5 L553.4,106.9 L553.9,105.3 L554.4,103.5 L554.8,101.5 L555.3,99.6 L555.7,98.1 L556.1,96.8 L556.5,95.7 L556.8,94.8 L557.2,94.3 L557.6,94.2 L557.9,94.4 L558.2,94.8 L558.6,95.5 L559.0,96.5 L559.3,97.8 L559.7,99.2 L560.1,100.5 L560.5,101.6 L560.9,102.8 L561.2,103.8 L561.6,104.7 L562.0,105.5 L562.3,106.2 L562.7,106.7 L563.1,107.1 L563.5,107.4 L564.0,107.5 L564.4,107.5 L564.9,107.5 L565.4,107.4 L565.8,107.2 L566.3,106.9 L566.8,106.5 L567.3,106.0 L567.9,105.4 L568.5,104.6 L569.0,103.8 L569.5,102.8 L569.9,101.8 L570.4,100.6 L570.8,99.3 L571.2,97.9 L571.6,96.3 L571.9,94.8 L572.3,93.4 L572.7,92.3 L573.0,91.2 L573.4,90.4 L573.8,89.7 L574.2,89.2 L574.6,88.8 L574.9,88.6 L575.3,88.7 L575.7,89.0 L576.0,89.6 L576.3,90.3 L576.7,91.2 L577.1,92.3 L577.4,93.6 L577.8,95.0 L578.2,96.1 L578.7,96.9 L579.2,97.6 L579.7,98.2 L580.2,98.6 L580.7,98.9 L581.3,99.0 L581.8,99.0 L582.4,98.9 L582.9,98.8 L583.5,98.7 L584.0,98.5 L584.6,98.1 L585.2,97.5 L585.8,96.6 L586.4,95.7 L586.9,94.8 L587.4,93.8 L587.8,92.8 L588.2,91.9 L588.6,91.1 L589.0,90.6 L589.4,90.2 L589.7,90.0 L590.1,89.9 L590.5,89.9 L590.9,90.1 L591.2,90.4 L591.6,90.8 L592.0,91.4 L592.4,92.1 L592.7,93.0 L593.1,94.0 L593.5,95.3 L593.8,96.9 L594.2,98.4 L594.6,99.8 L595.0,101.0 L595.5,102.0 L596.0,102.9 L596.5,103.7 L597.0,104.3 L597.6,104.9 L598.1,105.2 L598.7,105.5 L599.3,105.6 L599.9,105.6 L600.4,105.5 L601.0,105.3 L601.6,105.1 L602.1,104.8 L602.7,104.5 L603.2,104.1 L603.6,103.7 L604.0,103.3 L604.3,102.6 L604.7,101.7 L605.1,100.3 L605.4,98.5 L605.8,96.6 L606.2,94.8 L606.6,93.0 L607.1,91.2 L607.5,89.5 L607.9,88.1 L608.3,87.0 L608.7,86.2 L609.0,85.6 L609.4,85.1 L609.8,84.7 L610.1,84.4 L610.5,84.3 L610.9,84.4 L611.3,84.7 L611.6,85.2 L612.0,85.9 L612.4,86.6 L612.8,87.4 L613.1,88.4 L613.5,89.4 L613.9,90.3 L614.3,91.1 L614.8,92.0 L615.3,92.7 L615.8,93.3 L616.3,93.7 L616.9,94.0 L617.4,94.2 L618.0,94.3 L618.6,94.4 L619.2,94.4 L619.8,94.3 L620.3,94.0 L620.8,93.5 L621.3,92.8 L621.8,92.0 L622.2,91.1 L622.6,90.0 L623.0,88.8 L623.3,87.6 L623.7,86.6 L624.1,85.8 L624.4,85.2 L624.7,84.7 L625.1,84.4 L625.5,84.3 L625.8,84.3 L626.2,84.6 L626.6,85.1 L627.0,85.9 L627.4,86.9 L627.7,88.1 L628.1,89.6 L628.5,91.4 L628.9,93.5 L629.2,95.7 L629.6,97.6 L630.0,99.2 L630.3,100.5 L630.7,101.8 L631.1,102.9 L631.5,103.9 L632.0,104.8 L632.4,105.5 L632.9,106.1 L633.4,106.5 L634.0,106.8 L634.5,107.0 L635.1,107.1 L635.6,107.2 L636.2,107.3 L636.7,107.2 L637.3,107.1 L637.9,106.8 L638.4,106.5 L639.0,106.0 L639.5,105.3 L639.9,104.3 L640.3,103.2 L640.6,101.9 L641.0,100.5 L641.4,99.0 L641.8,97.2 L642.1,95.6 L642.5,94.4 L642.9,93.7 L643.2,93.2 L643.6,93.0 L644.0,93.0 L644.4,93.0 L644.8,93.2 L645.1,93.6 L645.5,94.4 L645.9,95.7 L646.3,97.3 L646.6,99.1 L647.0,100.7 L647.3,102.0 L647.7,103.3 L648.0,104.4 L648.4,105.5 L648.8,106.5 L649.3,107.5 L649.9,108.3 L650.4,109.0 L651.0,109.5 L651.6,109.8 L652.3,110.1 L652.9,110.2 L653.5,110.3 L654.0,110.2 L654.6,110.1 L655.1,109.8 L655.6,109.4 L656.0,109.0 L656.5,108.4 L656.9,107.6 L657.3,106.6 L657.7,105.4 L658.0,104.2 L658.4,103.1 L658.8,102.2 L659.1,101.4 L659.5,100.8 L659.9,100.2 L660.3,99.8 L660.7,99.5 L661.0,99.3 L661.4,99.2 L661.8,99.2 L662.1,99.4 L662.4,99.7 L662.8,100.3 L663.2,101.3 L663.5,102.6 L663.9,104.0 L664.3,105.3 L664.7,106.3 L665.0,107.3 L665.4,108.2 L665.8,109.0 L666.2,109.7 L666.7,110.3 L667.2,110.9 L667.7,111.3 L668.3,111.6 L668.9,111.8 L669.5,111.9 L670.0,112.0 L670.3,112.1 L670.5,112.2 L670.7,112.3 L670.8,112.3" stroke="#f5a31a"/>
<path d="M391.5,158.2 L391.7,157.4 L391.9,156.2 L392.3,154.9 L392.6,153.6 L392.9,152.3 L393.3,151.1 L393.7,149.6 L394.2,148.0 L394.8,146.0 L395.6,143.8 L396.3,141.5 L396.9,139.4 L397.4,137.3 L397.8,135.3 L398.1,133.5 L398.4,132.0 L398.6,131.1 L398.8,130.6 L398.9,130.2 L399.1,129.6 L399.3,128.6 L399.6,127.3 L399.8,126.1 L400.1,125.2 L400.4,124.7 L400.7,124.3 L401.0,124.2 L401.3,124.4 L401.6,124.7 L401.9,125.2 L402.2,126.1 L402.5,127.4 L402.8,129.4 L403.0,132.1 L403.2,134.7 L403.5,137.0 L403.8,138.7 L404.2,140.2 L404.6,141.3 L405.0,142.3 L405.5,143.0 L406.0,143.5 L406.5,143.7 L407.0,143.8 L407.5,143.7 L407.9,143.3 L408.3,142.8 L408.7,142.3 L409.1,141.7 L409.5,141.0 L409.8,140.3 L410.2,139.4 L410.6,138.4 L410.9,137.3 L411.3,136.1 L411.7,134.8 L412.1,133.4 L412.4,131.9 L412.8,130.3 L413.2,128.6 L413.6,126.8 L413.9,124.8 L414.3,122.8 L414.7,120.7 L415.1,118.4 L415.5,116.0 L415.8,113.7 L416.2,111.8 L416.6,110.4 L416.9,109.4 L417.2,108.7 L417.6,108.1 L418.0,107.7 L418.3,107.5 L418.7,107.4 L419.1,107.6 L419.5,108.0 L419.9,108.7 L420.2,109.5 L420.6,110.3 L421.0,111.2 L421.3,112.2 L421.7,113.2 L422.1,114.0 L422.5,114.5 L423.0,114.8 L423.4,115.0 L423.9,115.1 L424.4,115.1 L424.8,114.9 L425.3,114.7 L425.8,114.5 L426.3,114.3 L426.9,114.0 L427.5,113.7 L428.0,113.3 L428.4,112.9 L428.8,112.4 L429.1,111.8 L429.5,111.1 L429.9,110.1 L430.2,109.0 L430.6,107.8 L431.0,106.6 L431.4,105.4 L431.8,104.2 L432.1,103.1 L432.5,102.2 L432.9,101.5 L433.3,100.9 L433.6,100.4 L434.0,100.2 L434.4,100.1 L434.7,100.2 L435.0,100.5 L435.4,101.1 L435.8,102.1 L436.1,103.4 L436.5,105.0 L436.9,106.6 L437.3,108.3 L437.6,110.3 L438.0,112.2 L438.4,114.0 L438.8,115.7 L439.1,117.3 L439.5,118.8 L439.9,120.0 L440.3,121.0 L440.6,121.7 L441.0,122.3 L441.4,122.9 L441.8,123.5 L442.3,124.0 L442.7,124.4 L443.2,124.7 L443.7,124.8 L444.2,124.8 L444.7,124.7 L445.1,124.4 L445.5,124.0 L445.9,123.6 L446.2,123.0 L446.6,122.2 L447.0,121.3 L447.4,120.1 L447.7,118.9 L448.1,117.7 L448.5,116.4 L448.8,115.0 L449.1,113.7 L449.5,112.5 L449.9,111.5 L450.2,110.6 L450.6,109.9 L451.0,109.3 L451.4,108.9 L451.8,108.7 L452.1,108.5 L452.5,108.5 L452.9,108.5 L453.2,108.6 L453.6,108.9 L454.0,109.3 L454.4,109.9 L454.8,110.8 L455.1,111.7 L455.5,112.5 L455.9,113.2 L456.2,113.9 L456.6,114.5 L457.0,115.1 L457.5,115.6 L458.1,116.0 L458.6,116.3 L459.2,116.6 L459.8,116.8 L460.3,116.9 L460.8,117.0 L461.4,117.0 L462.0,116.9 L462.5,116.8 L463.1,116.6 L463.6,116.3 L464.0,115.9 L464.4,115.4 L464.7,114.8 L465.1,114.0 L465.5,113.1 L465.9,112.0 L466.2,110.8 L466.6,109.6 L467.0,108.4 L467.4,107.0 L467.7,105.8 L468.1,104.7 L468.5,103.8 L468.9,103.1 L469.2,102.6 L469.6,102.2 L470.0,102.0 L470.4,102.0 L470.7,102.2 L471.1,102.6 L471.5,103.3 L471.8,104.3 L472.1,105.4 L472.5,106.6 L472.9,107.9 L473.2,109.3 L473.6,110.6 L474.0,111.8 L474.4,112.7 L474.9,113.4 L475.3,114.0 L475.8,114.5 L476.3,114.9 L476.7,115.1 L477.2,115.2 L477.7,115.1 L478.2,114.8 L478.8,114.4 L479.4,113.8 L480.0,113.3 L480.6,112.9 L481.1,112.4 L481.7,112.0 L482.2,111.4 L482.7,110.6 L483.2,109.7 L483.7,108.7 L484.2,108.0 L484.6,107.5 L485.1,107.0 L485.5,106.8 L485.9,106.7 L486.3,106.9 L486.8,107.2 L487.3,107.8 L487.7,108.5 L488.1,109.4 L488.4,110.4 L488.8,111.6 L489.2,112.9 L489.6,114.3 L490.1,115.9 L490.6,117.5 L491.1,118.9 L491.6,120.0 L492.2,121.1 L492.8,121.9 L493.4,122.6 L494.0,123.1 L494.5,123.5 L495.1,123.7 L495.6,123.8 L496.2,123.8 L496.7,123.6 L497.3,123.3 L497.8,122.9 L498.4,122.3 L498.9,121.6 L499.5,120.7 L500.0,119.6 L500.5,118.2 L501.1,116.6 L501.5,115.0 L502.0,113.7 L502.4,112.7 L502.7,111.9 L503.1,111.2 L503.4,110.7 L503.8,110.4 L504.1,110.2 L504.5,110.3 L504.9,110.4 L505.3,110.7 L505.6,111.0 L506.0,111.6 L506.4,112.2 L506.8,113.0 L507.3,114.0 L507.7,115.0 L508.2,115.9 L508.7,116.7 L509.3,117.5 L509.8,118.3 L510.4,118.9 L510.9,119.4 L511.5,119.8 L512.0,120.2 L512.6,120.4 L513.2,120.5 L513.8,120.6 L514.3,120.5 L514.9,120.4 L515.5,120.2 L516.0,119.9 L516.6,119.5 L517.1,118.9 L517.6,118.0 L518.0,116.7 L518.5,115.5 L518.9,114.4 L519.3,113.5 L519.7,112.7 L520.0,112.0 L520.4,111.4 L520.8,111.0 L521.1,110.7 L521.4,110.6 L521.8,110.7 L522.2,111.0 L522.5,111.4 L522.9,112.1 L523.3,112.9 L523.7,114.0 L524.0,115.4 L524.4,116.8 L524.8,118.1 L525.2,119.3 L525.7,120.4 L526.2,121.4 L526.7,122.3 L527.2,123.0 L527.7,123.6 L528.2,124.0 L528.7,124.4 L529.1,124.7 L529.6,124.9 L530.0,125.1 L530.4,125.1 L530.8,125.1 L531.3,125.0 L531.7,124.7 L532.2,124.4 L532.7,123.9 L533.2,123.4 L533.7,122.7 L534.2,121.8 L534.7,120.7 L535.2,119.4 L535.6,118.0 L536.1,116.6 L536.6,115.1 L537.0,113.5 L537.5,112.0 L537.9,110.7 L538.3,109.7 L538.6,108.9 L539.0,108.2 L539.3,107.7 L539.6,107.4 L539.9,107.2 L540.2,107.3 L540.5,107.4 L540.9,107.7 L541.2,108.1 L541.6,108.6 L542.0,109.2 L542.4,109.8 L542.7,110.6 L543.1,111.3 L543.5,111.9 L543.9,112.4 L544.4,112.9 L544.8,113.3 L545.3,113.7 L545.8,114.0 L546.4,114.2 L546.9,114.3 L547.5,114.4 L548.0,114.4 L548.6,114.3 L549.1,114.1 L549.7,113.7 L550.3,113.2 L550.9,112.5 L551.5,111.7 L552.0,110.7 L552.5,109.6 L553.0,108.3 L553.4,106.9 L553.9,105.5 L554.4,104.0 L554.8,102.4 L555.3,100.9 L555.7,99.6 L556.1,98.7 L556.5,97.9 L556.8,97.4 L557.2,97.1 L557.6,96.9 L557.9,97.0 L558.2,97.2 L558.6,97.6 L559.0,98.3 L559.3,99.1 L559.7,100.1 L560.1,101.1 L560.5,102.1 L560.9,103.1 L561.2,104.0 L561.6,104.8 L562.0,105.4 L562.3,105.9 L562.7,106.3 L563.1,106.6 L563.5,106.8 L564.0,107.0 L564.4,107.0 L564.9,107.0 L565.4,106.9 L565.8,106.7 L566.3,106.4 L566.8,106.0 L567.3,105.5 L567.9,104.9 L568.5,104.1 L569.0,103.3 L569.5,102.3 L569.9,101.2 L570.4,100.1 L570.8,98.8 L571.2,97.4 L571.6,95.8 L571.9,94.3 L572.3,92.9 L572.7,91.8 L573.0,90.7 L573.4,89.9 L573.8,89.2 L574.2,88.7 L574.6,88.3 L574.9,88.1 L575.3,88.2 L575.7,88.5 L576.0,89.1 L576.3,89.8 L576.7,90.7 L577.1,91.8 L577.4,93.1 L577.8,94.5 L578.2,95.6 L578.7,96.4 L579.2,97.1 L579.7,97.7 L580.2,98.1 L580.7,98.4 L581.3,98.5 L581.8,98.5 L582.4,98.4 L582.9,98.3 L583.5,98.2 L584.0,97.9 L584.6,97.6 L585.2,97.2 L585.8,96.7 L586.4,96.1 L586.9,95.4 L587.4,94.5 L587.8,93.5 L588.2,92.5 L588.6,91.7 L589.0,91.2 L589.4,90.8 L589.7,90.6 L590.1,90.5 L590.5,90.5 L590.9,90.7 L591.2,91.0 L591.6,91.4 L592.0,92.0 L592.4,92.8 L592.7,93.6 L593.1,94.6 L593.5,95.7 L593.8,96.9 L594.2,98.1 L594.6,99.3 L595.0,100.4 L595.5,101.4 L596.0,102.4 L596.5,103.2 L597.0,103.8 L597.6,104.4 L598.1,104.7 L598.7,105.0 L599.3,105.1 L599.9,105.1 L600.4,105.0 L601.0,104.8 L601.6,104.6 L602.1,104.3 L602.7,104.0 L603.2,103.6 L603.6,103.2 L604.0,102.7 L604.3,102.1 L604.7,101.2 L605.1,100.0 L605.4,98.6 L605.8,97.0 L606.2,95.4 L606.6,93.7 L607.1,91.9 L607.5,90.1 L607.9,88.7 L608.3,87.6 L608.7,86.8 L609.0,86.2 L609.4,85.7 L609.8,85.3 L610.1,85.0 L610.5,84.9 L610.9,85.0 L611.3,85.3 L611.6,85.8 L612.0,86.5 L612.4,87.2 L612.8,88.0 L613.1,89.0 L613.5,90.0 L613.9,90.9 L614.3,91.7 L614.8,92.6 L615.3,93.3 L615.8,93.9 L616.3,94.3 L616.9,94.6 L617.4,94.8 L618.0,94.9 L618.6,95.0 L619.2,95.0 L619.8,94.9 L620.3,94.6 L620.8,94.1 L621.3,93.4 L621.8,92.6 L622.2,91.7 L622.6,90.6 L623.0,89.4 L623.3,88.2 L623.7,87.2 L624.1,86.4 L624.4,85.8 L624.7,85.3 L625.1,85.0 L625.5,84.9 L625.8,84.9 L626.2,85.2 L626.6,85.7 L627.0,86.5 L627.4,87.6 L627.7,88.8 L628.1,90.2 L628.5,91.8 L628.9,93.6 L629.2,95.4 L629.6,97.1 L630.0,98.6 L630.3,100.0 L630.7,101.3 L631.1,102.4 L631.5,103.4 L632.0,104.3 L632.4,105.0 L632.9,105.6 L633.4,106.0 L634.0,106.3 L634.5,106.5 L635.1,106.6 L635.6,106.7 L636.2,106.8 L636.7,106.7 L637.3,106.6 L637.9,106.3 L638.4,106.0 L639.0,105.5 L639.5,104.8 L639.9,103.8 L640.3,102.6 L640.6,101.3 L641.0,100.0 L641.4,98.7 L641.8,97.3 L642.1,96.0 L642.5,95.0 L642.9,94.3 L643.2,93.9 L643.6,93.7 L644.0,93.6 L644.4,93.7 L644.8,93.9 L645.1,94.3 L645.5,95.0 L645.9,96.0 L646.3,97.4 L646.6,98.8 L647.0,100.2 L647.3,101.5 L647.7,102.7 L648.0,103.9 L648.4,105.0 L648.8,106.0 L649.3,107.0 L649.9,107.8 L650.4,108.5 L651.0,109.0 L651.6,109.3 L652.3,109.6 L652.9,109.7 L653.5,109.8 L654.0,109.7 L654.6,109.6 L655.1,109.3 L655.6,108.9 L656.0,108.5 L656.5,107.9 L656.9,107.1 L657.3,106.1 L657.7,104.9 L658.0,103.7 L658.4,102.6 L658.8,101.7 L659.1,100.9 L659.5,100.3 L659.9,99.7 L660.3,99.3 L660.7,99.0 L661.0,98.8 L661.4,98.7 L661.8,98.7 L662.1,98.9 L662.4,99.2 L662.8,99.8 L663.2,100.8 L663.5,102.1 L663.9,103.5 L664.3,104.8 L664.7,105.8 L665.0,106.8 L665.4,107.7 L665.8,108.5 L666.2,109.2 L666.7,109.8 L667.2,110.4 L667.7,110.8 L668.3,111.1 L668.9,111.3 L669.5,111.4 L670.0,111.5 L670.3,111.6 L670.5,111.7 L670.7,111.8 L670.8,111.8" stroke="#000000"/>
</g>
<g>
<text x="45.5" y="231.4" font-size="14.30" text-anchor="middle">0</text>
<text x="115.2" y="231.4" font-size="14.30" text-anchor="middle">0.5</text>
<text x="184.9" y="231.4" font-size="14.30" text-anchor="middle">1</text>
<text x="254.6" y="231.4" font-size="14.30" text-anchor="middle">1.5</text>
<text x="324.3" y="231.4" font-size="14.30" text-anchor="middle">2</text>
<text x="41.5" y="10.0" font-size="14.30" text-anchor="end">0</text>
<text x="41.5" y="51.8" font-size="14.30" text-anchor="end">-5</text>
<text x="41.5" y="93.6" font-size="14.30" text-anchor="end">-10</text>
<text x="41.5" y="135.4" font-size="14.30" text-anchor="end">-15</text>
<text x="41.5" y="177.2" font-size="14.30" text-anchor="end">-20</text>
<text x="41.5" y="218.9" font-size="14.30" text-anchor="end">-25</text>
<text x="391.5" y="231.4" font-size="14.30" text-anchor="middle">0</text>
<text x="447.4" y="231.4" font-size="14.30" text-anchor="middle">200</text>
<text x="503.3" y="231.4" font-size="14.30" text-anchor="middle">400</text>
<text x="559.1" y="231.4" font-size="14.30" text-anchor="middle">600</text>
<text x="615.0" y="231.4" font-size="14.30" text-anchor="middle">800</text>
<text x="670.9" y="231.4" font-size="14.30" text-anchor="middle">1000</text>
<text x="388.0" y="10.0" font-size="14.30" text-anchor="end">80</text>
<text x="388.0" y="62.2" font-size="14.30" text-anchor="end">60</text>
<text x="388.0" y="114.5" font-size="14.30" text-anchor="end">40</text>
<text x="388.0" y="166.7" font-size="14.30" text-anchor="end">20</text>
<text x="388.0" y="218.9" font-size="14.30" text-anchor="end">0</text>
<text x="185.1" y="251.6" font-size="14.10" text-anchor="middle">Iteration number</text>
<text x="531.4" y="251.6" font-size="14.10" text-anchor="middle">Frequency (Hz)</text>
<text font-size="14.10" text-anchor="middle" transform="translate(11.9,107.7) rotate(-90)">ANR (dB)</text>
<text font-size="14.10" text-anchor="middle" transform="translate(361.0,109.5) rotate(-90)">SPL (dB)</text>
<path d="M295.2,245.2 L302.1,251.7 M302.1,245.2 L295.2,251.7" stroke="#262626" stroke-width="0.95" fill="none"/>
<text x="304.8" y="252.0" font-size="14">10</text>
<text x="318.7" y="244.7" font-size="10.9">5</text>
<text x="183.1" y="278.2" fill="#111" font-size="16.60" text-anchor="middle"><tspan font-weight="bold">(a)</tspan> ANR curve</text>
<text x="524.1" y="278.9" fill="#111" font-size="16.60" text-anchor="middle"><tspan font-weight="bold">(b)</tspan> Frequency spectrum</text>
</g>
<rect x="206.7" y="15.4" width="107.8" height="83.4" fill="#ffffff" stroke="#262626" stroke-width="1.1"/>
<g>
<path d="M212.0,25.9 H236.7" stroke="#00ff00" stroke-width="1.5" fill="none"/>
<text font-size="13.40" transform="translate(240.4,30.5) scale(0.970,1)">FX-BANC</text>
<path d="M212.0,41.6 H236.7" stroke="#0000ff" stroke-width="1.5" fill="none"/>
<text font-size="13.40" transform="translate(240.4,46.2) scale(0.970,1)">NFX-BANC</text>
<path d="M212.0,57.4 H236.7" stroke="#ff00ff" stroke-width="1.5" fill="none"/>
<text font-size="13.40" transform="translate(240.4,62.0) scale(0.970,1)">DF-BANC</text>
<path d="M212.0,73.2 H236.7" stroke="#f5a31a" stroke-width="1.5" fill="none"/>
<text font-size="13.40" transform="translate(240.4,77.8) scale(0.970,1)">DS-BANC</text>
<path d="M212.0,88.9 H236.7" stroke="#222222" stroke-width="1.5" fill="none"/>
<text font-size="13.40" transform="translate(240.4,93.5) scale(0.970,1)">MDS-BANC</text>
</g>
<rect x="562.4" y="112.7" width="103.5" height="93.8" fill="#ffffff" stroke="#262626" stroke-width="1.1"/>
<g>
<path d="M567.0,122.5 H588.6" stroke="#ff0000" stroke-width="1.5" fill="none"/>
<text font-size="13.40" transform="translate(592.4,127.1) scale(0.970,1)">ANC OFF</text>
<path d="M567.0,137.4 H588.6" stroke="#00ff00" stroke-width="1.5" fill="none"/>
<text font-size="13.40" transform="translate(592.4,142.0) scale(0.970,1)">FX-BANC</text>
<path d="M567.0,152.3 H588.6" stroke="#0000ff" stroke-width="1.5" fill="none"/>
<text font-size="13.40" transform="translate(592.4,156.9) scale(0.970,1)">NFX-BANC</text>
<path d="M567.0,167.2 H588.6" stroke="#ff00ff" stroke-width="1.5" fill="none"/>
<text font-size="13.40" transform="translate(592.4,171.8) scale(0.970,1)">DF-BANC</text>
<path d="M567.0,182.1 H588.6" stroke="#f5a31a" stroke-width="1.5" fill="none"/>
<text font-size="13.40" transform="translate(592.4,186.7) scale(0.970,1)">DS-BANC</text>
<path d="M567.0,197.0 H588.6" stroke="#222222" stroke-width="1.5" fill="none"/>
<text font-size="13.40" transform="translate(592.4,201.6) scale(0.970,1)">MDS-BANC</text>
</g>
</svg></body></html>
